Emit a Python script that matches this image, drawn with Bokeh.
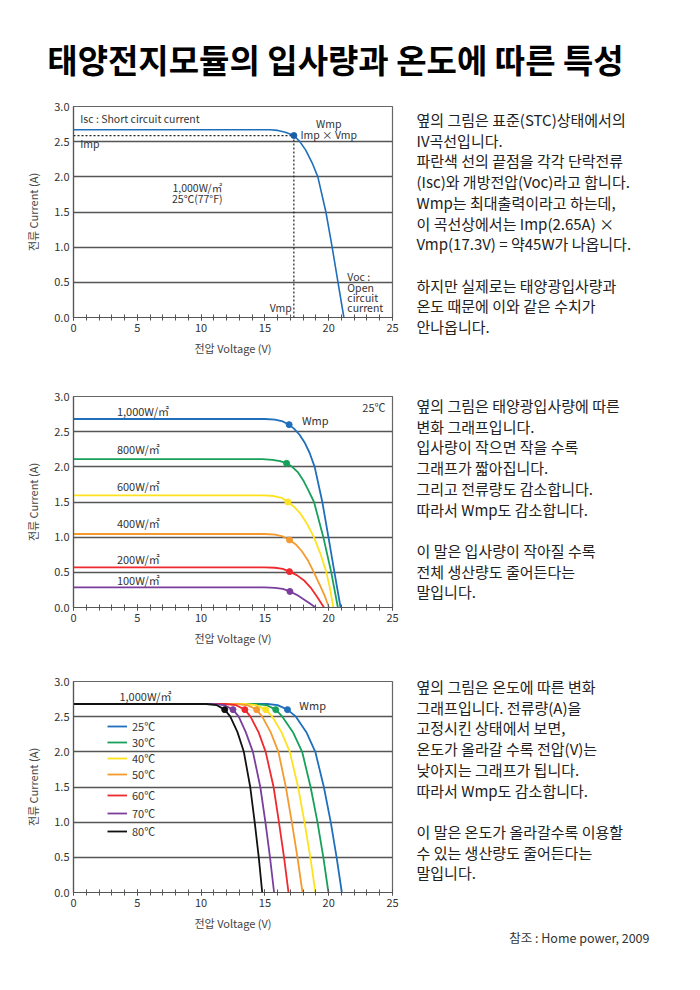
from bokeh.plotting import figure
from bokeh.layouts import column, row
from bokeh.models import (Range1d, SingleIntervalTicker, NumeralTickFormatter,
                          Legend, LegendItem)
from bokeh.core.properties import value
from bokeh.embed import file_html
from bokeh.resources import INLINE

FONT = "Noto Sans CJK KR"

# ---------------- data ----------------
title_text = "태양전지모듈의 입사량과 온도에 따른 특성"
x_label = "전압 Voltage (V)"
y_label = "전류 Current (A)"

# Chart 1: STC I-V curve
stc_v = [0, 15.4, 16.0, 16.6, 17.27, 17.74, 18.2, 18.7, 19.15, 19.78, 20.27, 20.73, 21.19]
stc_i = [2.67, 2.67, 2.66, 2.635, 2.587, 2.5, 2.38, 2.2, 2.0, 1.5, 1.0, 0.5, 0.0]
vmp = 17.27
imp = 2.587

# Chart 2: irradiance curves (25 C)
irr_labels = ["1,000W/㎡", "800W/㎡", "600W/㎡", "400W/㎡", "200W/㎡", "100W/㎡"]
irr_colors = ["#1f6fbd", "#17a05a", "#ffe21f", "#f59a2e", "#ee2a2f", "#7a3f9d"]
irr_v = [
    [0, 15.0, 15.8, 16.4, 16.9, 17.3, 17.7, 18.1, 18.5, 18.9, 19.5, 19.98, 20.45, 20.93],
    [0, 14.8, 15.6, 16.2, 16.7, 17.14, 17.6, 18.0, 18.4, 18.85, 19.58, 20.2, 20.72],
    [0, 14.9, 15.7, 16.3, 16.8, 17.3, 17.8, 18.3, 18.84, 19.38, 19.82, 20.12, 20.36],
    [0, 15.0, 15.8, 16.4, 16.93, 17.4, 17.9, 18.4, 18.84, 19.3, 19.7, 20.02],
    [0, 15.0, 15.8, 16.4, 16.93, 17.5, 18.1, 18.6, 19.1, 19.63],
    [0, 15.0, 15.8, 16.4, 16.96, 17.5, 18.0, 18.5, 18.97],
]
irr_i = [
    [2.68, 2.68, 2.67, 2.645, 2.60, 2.54, 2.46, 2.35, 2.20, 2.0, 1.5, 1.0, 0.5, 0.0],
    [2.11, 2.11, 2.10, 2.08, 2.05, 2.0, 1.92, 1.81, 1.67, 1.5, 1.0, 0.5, 0.0],
    [1.595, 1.595, 1.585, 1.56, 1.50, 1.43, 1.33, 1.19, 1.0, 0.75, 0.5, 0.25, 0.0],
    [1.045, 1.045, 1.035, 1.01, 0.96, 0.90, 0.80, 0.66, 0.5, 0.32, 0.16, 0.0],
    [0.57, 0.57, 0.565, 0.55, 0.51, 0.46, 0.38, 0.28, 0.15, 0.0],
    [0.285, 0.285, 0.28, 0.265, 0.228, 0.18, 0.12, 0.06, 0.0],
]
irr_mp_v = [16.9, 16.7, 16.8, 16.93, 16.93, 16.96]
irr_mp_i = [2.60, 2.05, 1.50, 0.96, 0.51, 0.228]
irr_label_i = [2.79, 2.25, 1.73, 1.20, 0.69, 0.395]

# Chart 3: temperature curves (1,000 W/m2)
temp_labels = ["25℃", "30℃", "40℃", "50℃", "60℃", "70℃", "80℃"]
temp_colors = ["#1f6fbd", "#17a05a", "#ffe21f", "#f59a2e", "#ee2a2f", "#7a3f9d", "#111111"]
temp_i = [2.68, 2.68, 2.665, 2.60, 2.50, 2.28, 2.0, 1.5, 1.0, 0.5, 0.0]
temp_v = [
    [0, 15.2, 16.0, 16.77, 17.43, 18.25, 18.95, 19.62, 20.16, 20.62, 21.03],
    [0, 14.3, 15.1, 15.85, 16.37, 17.2, 17.92, 18.58, 19.12, 19.58, 19.98],
    [0, 13.5, 14.3, 15.06, 15.58, 16.3, 16.95, 17.6, 18.1, 18.56, 18.96],
    [0, 12.8, 13.6, 14.35, 14.79, 15.45, 16.06, 16.64, 17.11, 17.55, 17.95],
    [0, 11.9, 12.7, 13.43, 13.87, 14.5, 15.06, 15.68, 16.1, 16.5, 16.85],
    [0, 11.0, 11.8, 12.50, 12.95, 13.5, 14.06, 14.64, 15.04, 15.4, 15.72],
    [0, 10.4, 11.2, 11.85, 12.29, 12.85, 13.35, 13.85, 14.2, 14.52, 14.79],
]
temp_mp_v = [16.77, 15.85, 15.06, 14.35, 13.43, 12.50, 11.85]
temp_mp_i = [2.60, 2.60, 2.60, 2.60, 2.60, 2.60, 2.60]

# Side texts
block1 = ["옆의 그림은 표준(STC)상태에서의", "IV곡선입니다.",
          "파란색 선의 끝점을 각각 단락전류", "(Isc)와 개방전압(Voc)라고 합니다.",
          "Wmp는 최대출력이라고 하는데,", "이 곡선상에서는 Imp(2.65A) ×",
          "Vmp(17.3V) = 약45W가 나옵니다.", "",
          "하지만 실제로는 태양광입사량과", "온도 때문에 이와 같은 수치가", "안나옵니다."]
block2 = ["옆의 그림은 태양광입사량에 따른", "변화 그래프입니다.",
          "입사량이 작으면 작을 수록", "그래프가 짧아집니다.",
          "그리고 전류량도 감소합니다.", "따라서 Wmp도 감소합니다.", "",
          "이 말은 입사량이 작아질 수록", "전체 생산량도 줄어든다는", "말입니다."]
block3 = ["옆의 그림은 온도에 따른 변화", "그래프입니다. 전류량(A)을",
          "고정시킨 상태에서 보면,", "온도가 올라갈 수록 전압(V)는",
          "낮아지는 그래프가 됩니다.", "따라서 Wmp도 감소합니다.", "",
          "이 말은 온도가 올라갈수록 이용할", "수 있는 생산량도 줄어든다는", "말입니다."]
footer = "참조 : Home power, 2009"

# ---------------- helpers ----------------
ANN = dict(text_font=value(FONT), text_font_size="10.5px", text_color="#333333",
           text_baseline="middle")
LBL = dict(text_font=value(FONT), text_font_size="11px", text_color="#333333",
           text_baseline="middle")


def chart_fig(height):
    p = figure(width=408, height=height, x_range=Range1d(0, 25), y_range=Range1d(0, 3),
               output_backend="svg", toolbar_location=None,
               min_border_left=73, min_border_right=16,
               min_border_top=16, min_border_bottom=height - 16 - 211)
    p.background_fill_color = "white"
    p.border_fill_color = "white"
    p.outline_line_color = "#666666"
    p.outline_line_width = 1.2
    p.xgrid.visible = False
    p.ygrid.grid_line_color = "#555555"
    p.ygrid.grid_line_width = 1.7
    p.xaxis.ticker = SingleIntervalTicker(interval=5, num_minor_ticks=5)
    p.yaxis.ticker = SingleIntervalTicker(interval=0.5, num_minor_ticks=0)
    p.yaxis.formatter = NumeralTickFormatter(format="0.0")
    for ax in (p.xaxis[0], p.yaxis[0]):
        ax.axis_line_color = "#555555"
        ax.axis_line_width = 1.2
        ax.major_label_text_font = FONT
        ax.major_label_text_font_size = "11px"
        ax.major_label_text_color = "#333333"
        ax.axis_label_text_font = FONT
        ax.axis_label_text_font_size = "11px"
        ax.axis_label_text_color = "#444444"
        ax.axis_label_text_font_style = "normal"
    p.xaxis.major_tick_in = 3
    p.xaxis.major_tick_out = 3
    p.xaxis.minor_tick_in = 3
    p.xaxis.minor_tick_out = 3
    p.xaxis.major_tick_line_color = "#555555"
    p.xaxis.minor_tick_line_color = "#555555"
    p.xaxis.major_label_standoff = 3
    p.xaxis.axis_label_standoff = 5
    p.yaxis.major_tick_in = 0
    p.yaxis.major_tick_out = 0
    p.yaxis.major_label_standoff = 4
    p.yaxis.axis_label_standoff = 10
    p.xaxis.axis_label = x_label
    p.yaxis.axis_label = y_label
    return p


# ---------------- title ----------------
tp = figure(width=692, height=90, x_range=Range1d(0, 692), y_range=Range1d(90, 0),
            output_backend="svg", toolbar_location=None, min_border=0,
            x_axis_type=None, y_axis_type=None)
tp.outline_line_color = None
tp.text(x=[335], y=[58], text=[title_text], text_font=value(FONT), text_font_size="33px",
        text_font_style="bold", text_color="#000000", text_align="center",
        text_baseline="middle")

# ---------------- chart 1 ----------------
p1 = chart_fig(290)
p1.line(stc_v, stc_i, line_color="#1f6fbd", line_width=1.6)
p1.line([0, vmp], [imp, imp], line_color="#222222", line_width=1.2, line_dash="2 2")
p1.line([vmp, vmp], [0, imp], line_color="#222222", line_width=1.2, line_dash="2 2")
p1.scatter([vmp], [imp], size=6, color="#1a5da8")
p1.text(x=[0.53, 0.53, 21.46, 21.46, 21.46, 21.46], y=[2.83, 2.47, 0.58, 0.43, 0.285, 0.14],
        text=["Isc : Short circuit current", "Imp", "Voc :", "Open", "circuit", "current"],
        text_align="left", **ANN)
p1.text(x=[20.0, 20.0, 9.7, 9.7], y=[2.76, 2.60, 1.85, 1.69],
        text=["Wmp", "Imp × Vmp", "1,000W/㎡", "25℃(77°F)"], text_align="center", **ANN)
p1.text(x=[17.1], y=[0.14], text=["Vmp"], text_align="right", **ANN)

# ---------------- chart 2 ----------------
p2 = chart_fig(285)
for k in range(len(irr_labels)):
    p2.line(irr_v[k], irr_i[k], line_color=irr_colors[k], line_width=1.8)
p2.scatter(irr_mp_v, irr_mp_i, size=6, color=irr_colors)
p2.text(x=[3.4] * len(irr_labels), y=irr_label_i, text=irr_labels, text_align="left", **LBL)
p2.text(x=[17.9], y=[2.67], text=["Wmp"], text_align="left", **LBL)
p2.text(x=[24.45], y=[2.85], text=["25℃"], text_align="right", **LBL)

# ---------------- chart 3 ----------------
p3 = chart_fig(290)
rends = []
for k in range(len(temp_labels)):
    r = p3.line(temp_v[k], temp_i, line_color=temp_colors[k], line_width=1.8)
    rends.append(r)
p3.scatter(temp_mp_v, temp_mp_i, size=6, color=temp_colors)
p3.text(x=[3.6], y=[2.80], text=["1,000W/㎡"], text_align="left", **LBL)
p3.text(x=[17.7], y=[2.67], text=["Wmp"], text_align="left", **LBL)


def make_legend(idx, loc, h):
    return Legend(items=[LegendItem(label=temp_labels[k], renderers=[rends[k]]) for k in idx],
                  location=loc, padding=0, margin=0, spacing=0, glyph_width=20,
                  glyph_height=h, label_height=h, label_standoff=5,
                  label_text_font=FONT, label_text_font_size="11px",
                  label_text_color="#333333", background_fill_alpha=0,
                  border_line_alpha=0)


p3.add_layout(make_legend([0, 1, 2, 3], (34, 110), 16))
p3.add_layout(make_legend([4, 5, 6], (34, 52), 18))

# ---------------- side texts (one tall panel) ----------------
TH = 865
tx = figure(width=284, height=TH, x_range=Range1d(0, 284), y_range=Range1d(TH, 0),
            output_backend="svg", toolbar_location=None, min_border=0,
            x_axis_type=None, y_axis_type=None)
tx.outline_line_color = None
SP = 20.7
for block, top in ((block1, 29), (block2, 315), (block3, 596)):
    ys = [top + k * SP for k, t in enumerate(block) if t]
    txt = [t for t in block if t]
    tx.text(x=[8] * len(txt), y=ys, text=txt, text_font=value(FONT), text_font_size="15px",
            text_color="#222222", text_baseline="middle", text_align="left")
tx.text(x=[241], y=[847], text=[footer], text_font=value(FONT), text_font_size="12.5px",
        text_color="#333333", text_align="right", text_baseline="middle")

layout = column(tp, row(column(p1, p2, p3), tx))

with open("out.html", "w") as f:
    f.write(file_html(layout, INLINE))
